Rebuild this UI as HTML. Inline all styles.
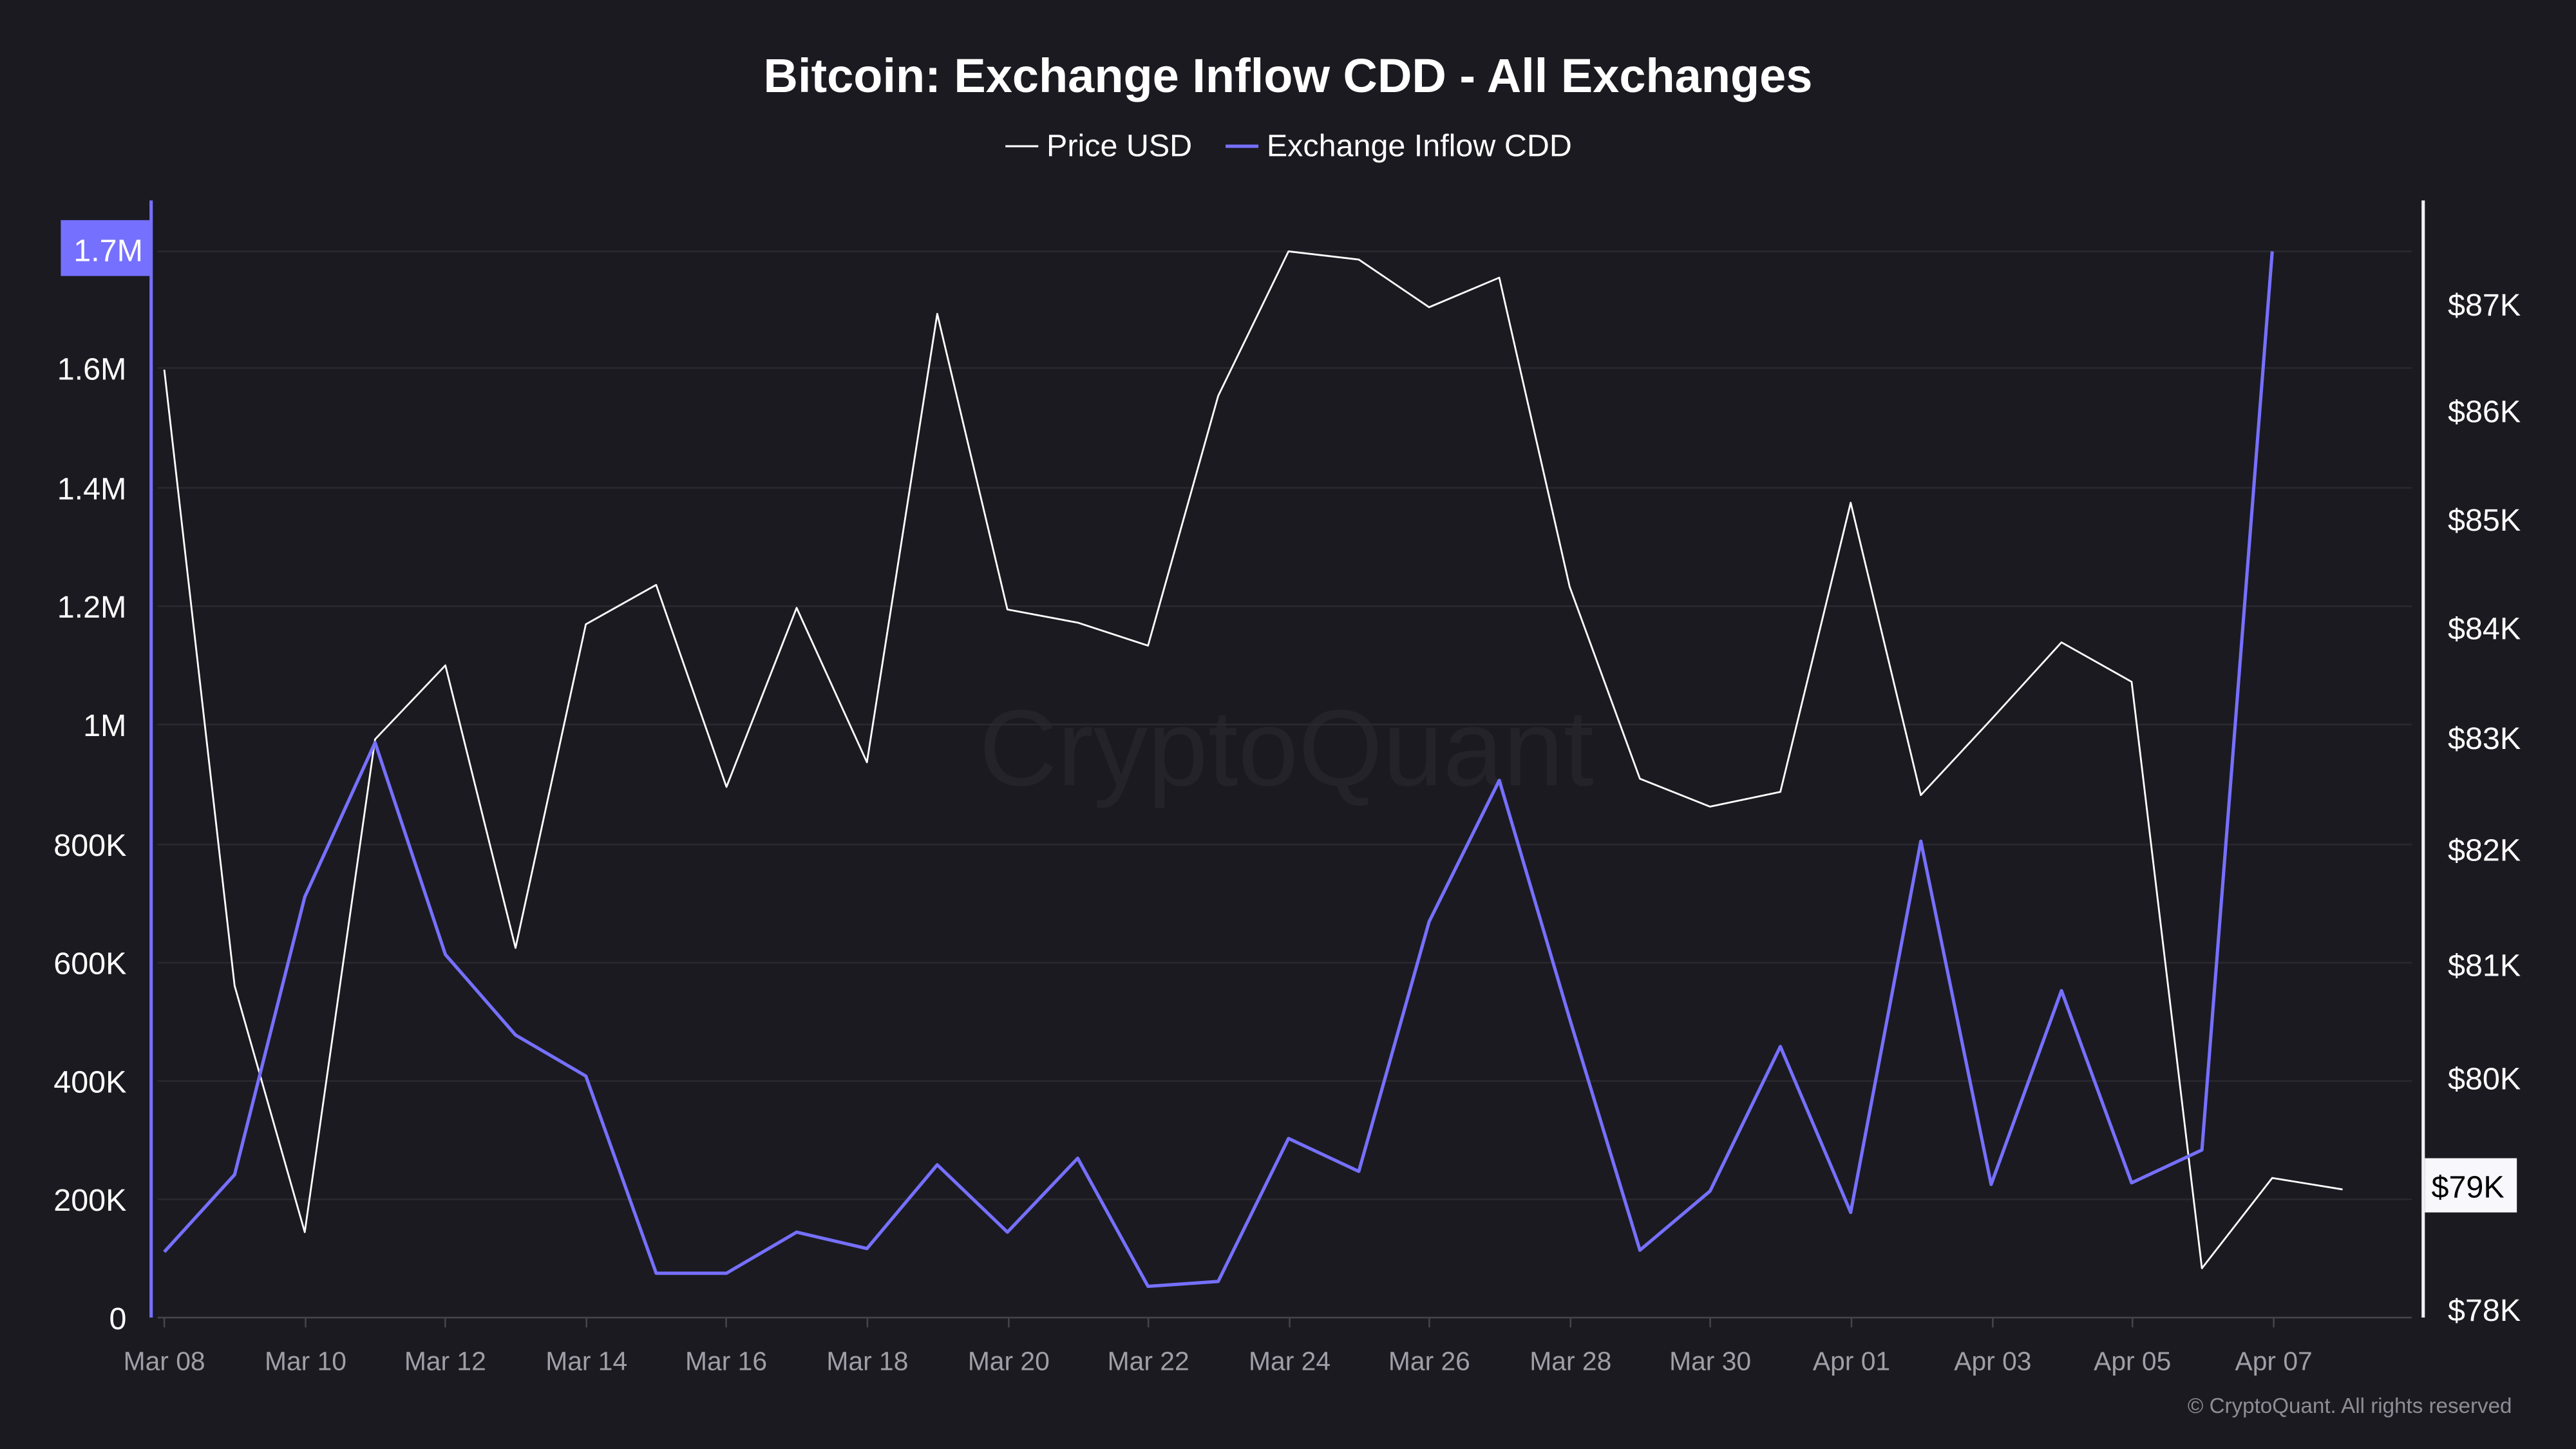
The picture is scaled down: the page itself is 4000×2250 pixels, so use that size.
<!DOCTYPE html>
<html><head><meta charset="utf-8"><style>
html,body{margin:0;padding:0;background:#1b1a20;}
svg{display:block;font-family:"Liberation Sans",sans-serif;}
</style></head><body>
<svg width="4000" height="2250" viewBox="0 0 1568 882" xmlns="http://www.w3.org/2000/svg">
<rect width="1568" height="882" fill="#1b1a20"/>
<text x="784" y="56" text-anchor="middle" font-size="29" font-weight="bold" fill="#ffffff">Bitcoin: Exchange Inflow CDD - All Exchanges</text>
<line x1="612" y1="89" x2="632" y2="89" stroke="#fff" stroke-width="1.2"/>
<text x="637" y="95" font-size="19" fill="#fff">Price USD</text>
<line x1="746" y1="89" x2="766" y2="89" stroke="#7670ff" stroke-width="2"/>
<text x="771" y="95" font-size="19" fill="#fff">Exchange Inflow CDD</text>
<text x="783" y="478" text-anchor="middle" font-size="66" fill="#242329">CryptoQuant</text>
<g stroke="#2a292f" stroke-width="1">
<line x1="96" x2="1468" y1="153" y2="153"/><line x1="96" x2="1468" y1="224" y2="224"/>
<line x1="96" x2="1468" y1="297" y2="297"/><line x1="96" x2="1468" y1="369" y2="369"/>
<line x1="96" x2="1468" y1="441" y2="441"/><line x1="96" x2="1468" y1="514" y2="514"/>
<line x1="96" x2="1468" y1="586" y2="586"/><line x1="96" x2="1468" y1="658" y2="658"/>
<line x1="96" x2="1468" y1="730" y2="730"/>
</g>
<line x1="96" x2="1468" y1="802" y2="802" stroke="#45444c" stroke-width="1"/>
<line x1="92" y1="122" x2="92" y2="802" stroke="#7670ff" stroke-width="2"/>
<line x1="1475" y1="122" x2="1475" y2="802" stroke="#f0f0f5" stroke-width="2"/>
<g font-size="19" fill="#fff" text-anchor="end">
<text x="77" y="231">1.6M</text><text x="77" y="304">1.4M</text><text x="77" y="376">1.2M</text>
<text x="77" y="448">1M</text><text x="77" y="521">800K</text><text x="77" y="593">600K</text>
<text x="77" y="665">400K</text><text x="77" y="737">200K</text><text x="77" y="809">0</text>
</g>
<rect x="37" y="134" width="55" height="34" fill="#7670ff"/>
<text x="87" y="159" font-size="19" fill="#fff" text-anchor="end">1.7M</text>
<g font-size="19" fill="#fff">
<text x="1490" y="192">$87K</text><text x="1490" y="257">$86K</text><text x="1490" y="323">$85K</text>
<text x="1490" y="389">$84K</text><text x="1490" y="456">$83K</text><text x="1490" y="524">$82K</text>
<text x="1490" y="594">$81K</text><text x="1490" y="663">$80K</text><text x="1490" y="804">$78K</text>
</g>
<rect x="1476" y="705" width="56" height="33" fill="#f7f7fc"/>
<text x="1480" y="729" font-size="19" fill="#000">$79K</text>
<g font-size="16" fill="#a09fa8" text-anchor="middle">
<text x="100" y="834">Mar 08</text><text x="186" y="834">Mar 10</text><text x="271" y="834">Mar 12</text>
<text x="357" y="834">Mar 14</text><text x="442" y="834">Mar 16</text><text x="528" y="834">Mar 18</text>
<text x="614" y="834">Mar 20</text><text x="699" y="834">Mar 22</text><text x="785" y="834">Mar 24</text>
<text x="870" y="834">Mar 26</text><text x="956" y="834">Mar 28</text><text x="1041" y="834">Mar 30</text>
<text x="1127" y="834">Apr 01</text><text x="1213" y="834">Apr 03</text><text x="1298" y="834">Apr 05</text>
<text x="1384" y="834">Apr 07</text>
</g>
<g stroke="#45444c"><line x1="100" y1="802" x2="100" y2="808"/><line x1="186" y1="802" x2="186" y2="808"/><line x1="271" y1="802" x2="271" y2="808"/><line x1="357" y1="802" x2="357" y2="808"/><line x1="442" y1="802" x2="442" y2="808"/><line x1="528" y1="802" x2="528" y2="808"/><line x1="614" y1="802" x2="614" y2="808"/><line x1="699" y1="802" x2="699" y2="808"/><line x1="785" y1="802" x2="785" y2="808"/><line x1="870" y1="802" x2="870" y2="808"/><line x1="956" y1="802" x2="956" y2="808"/><line x1="1041" y1="802" x2="1041" y2="808"/><line x1="1127" y1="802" x2="1127" y2="808"/><line x1="1213" y1="802" x2="1213" y2="808"/><line x1="1298" y1="802" x2="1298" y2="808"/><line x1="1384" y1="802" x2="1384" y2="808"/></g>
<polyline fill="none" stroke="#ffffff" stroke-width="1.1" stroke-linejoin="round" points="100,225 142.8,600 185.5,750 228.3,450 271.1,405 313.8,577 356.6,380 399.4,356 442.2,479 484.9,370 527.7,464 570.5,191 613.2,371 656,379 698.8,393 741.5,241 784.3,153 827.1,158 869.9,187 912.6,169 955.4,357 998.2,474 1040.9,491 1083.7,482 1126.5,306 1169.2,484 1212,438 1254.8,391 1297.5,415 1340.3,772 1383.1,717 1425.9,724"/>
<polyline fill="none" stroke="#7670ff" stroke-width="2" stroke-linejoin="round" points="100,762 142.8,715 185.5,546 228.3,452 271.1,581 313.8,630 356.6,655 399.4,775 442.2,775 484.9,750 527.7,760 570.5,709 613.2,750 656,705 698.8,783 741.5,780 784.3,693 827.1,713 869.9,561 912.6,475 955.4,620 998.2,761 1040.9,725 1083.7,637 1126.5,738 1169.2,512 1212,721 1254.8,603 1297.5,720 1340.3,700 1383.1,153"/>
<text x="1529" y="860" font-size="13" fill="#8e8d96" text-anchor="end">© CryptoQuant. All rights reserved</text>
</svg>
</body></html>
